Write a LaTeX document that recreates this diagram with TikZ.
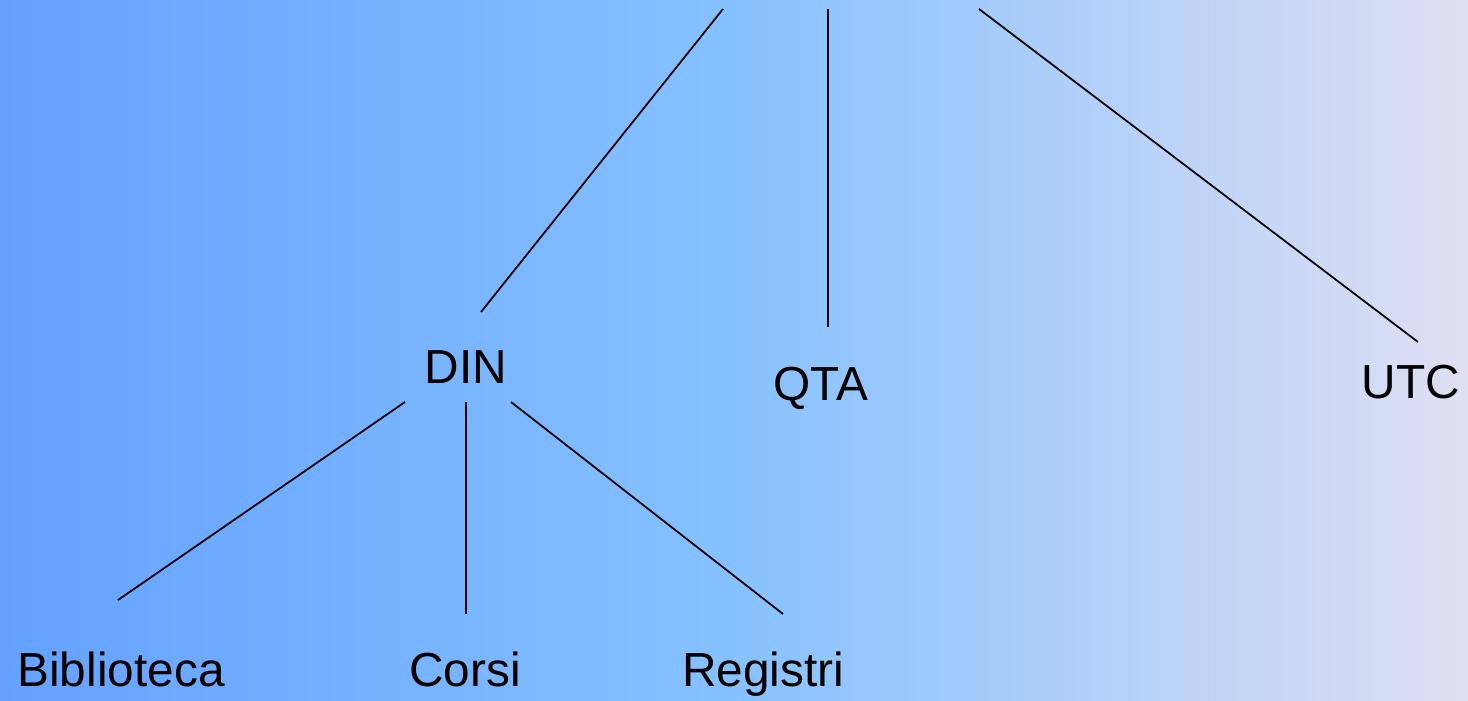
\documentclass[tikz,border=0pt]{standalone}
\usepackage{fontspec}
\setmainfont{Liberation Sans}
\definecolor{bgleft}{RGB}{100,161,255}
\definecolor{bgmid}{RGB}{134,193,255}
\definecolor{bgright}{RGB}{223,223,242}
\begin{document}
\begin{tikzpicture}[x=0.1mm,y=-0.1mm,
				every node/.style={font=\fontsize{13.6}{16}\selectfont,inner sep=0pt,anchor=base},
				branch/.style={line width=0.5pt}]
\useasboundingbox (0,0) rectangle (1468,701);
\shade[left color=bgleft,right color=bgmid] (0,0) rectangle (731,701);
\shade[left color=bgmid,right color=bgright] (730,0) rectangle (1468,701);
% top level
\coordinate (top-din) at (723,9);
\coordinate (top-qta) at (828,9);
\coordinate (top-utc) at (979,9);
\node (din) at (466,383) {DIN};
\node (qta) at (821,400) {QTA};
\node (utc) at (1411,398) {UTC};
% under DIN
\node (bib) at (121,686) {Biblioteca};
\node (corsi) at (465,686) {Corsi};
\node (reg) at (763,686) {Registri};
\draw[branch] (top-din) -- ([shift={(15,-71)}]din.base);
\draw[branch] (top-qta) -- ([shift={(7,-73)}]qta.base);
\draw[branch] (top-utc) -- ([shift={(7,-56)}]utc.base);
\draw[branch] ([shift={(-61,19)}]din.base) -- ([shift={(-3,-86)}]bib.base);
\draw[branch] ([shift={(0,19)}]din.base) -- ([shift={(1,-72)}]corsi.base);
\draw[branch] ([shift={(45,19)}]din.base) -- ([shift={(20,-72)}]reg.base);
\end{tikzpicture}
\end{document}
